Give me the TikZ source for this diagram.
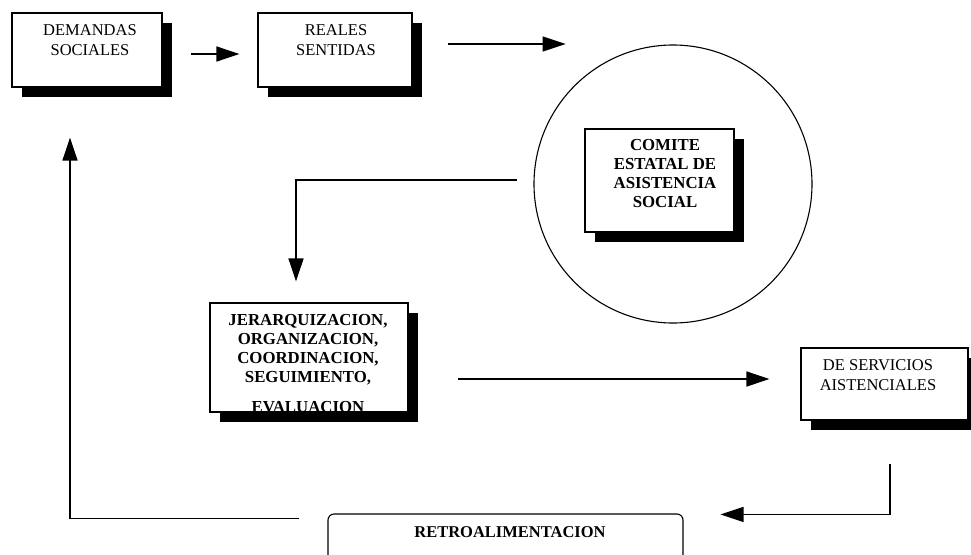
\documentclass[tikz,border=0pt]{standalone}
\usepackage{fontspec}
\setmainfont{Liberation Serif}
\usetikzlibrary{arrows.meta,shadows}
\begin{document}
\begin{tikzpicture}[x=1pt,y=-1pt,
  box/.style={draw=black,line width=1.1pt,fill=white,rectangle,inner sep=0pt,
    drop shadow={shadow xshift=10pt,shadow yshift=-10pt,fill=black,opacity=1}},
  plainbox/.style={draw=black,line width=1.1pt,fill=white,rectangle,inner sep=0pt},
  txt/.style={inner sep=0pt,align=center,font=\fontsize{16.5}{19.5}\selectfont},
  btxt/.style={inner sep=0pt,align=center,font=\fontsize{16.8}{19}\selectfont\bfseries},
  link/.style={line width=1.4pt,draw=black},
  arr/.style={link,-{Triangle[length=23pt,width=15pt]}}]
\clip (0,0) rectangle (971,554);
\fill[white] (0,0) rectangle (971,554);

% boxes
\node[box,minimum width=150pt,minimum height=74pt] (dem) at (87,50) {};
\node[txt] (demt) at (90,40) {DEMANDAS\\SOCIALES};

\node[box,minimum width=154pt,minimum height=74pt] (rea) at (335,50) {};
\node[txt] (reat) at (336,40) {REALES\\SENTIDAS};

\node[circle,draw=black,line width=1.1pt,minimum size=278pt,inner sep=0pt] (circ) at (673,184) {};

\node[box,minimum width=149pt,minimum height=103pt] (com) at (659.5,180.5) {};
\node[btxt] (comt) at (665,173.5) {COMITE\\ESTATAL DE\\ASISTENCIA\\SOCIAL};

\node[box,minimum width=198pt,minimum height=109pt] (jer) at (309,357.5) {};
\node[btxt] (jert) at (308,364) {JERARQUIZACION,\\ORGANIZACION,\\COORDINACION,\\SEGUIMIENTO,\\[11pt]EVALUACION};

\node[box,minimum width=167pt,minimum height=72pt] (serv) at (884.5,384) {};
\node[txt] (servt) at (878,375) {DE SERVICIOS\\AISTENCIALES};

\node[plainbox,rounded corners=6pt,minimum width=355pt,minimum height=56pt] (ret) at (505.5,542) {};
\node[btxt,font=\fontsize{16.5}{18}\selectfont\bfseries] (rett) at (510,532) {RETROALIMENTACION};

% connectors
\draw[arr] ([xshift=28pt,yshift=-4pt]dem.east) -- ([xshift=-18pt,yshift=-4pt]rea.west);
\draw[arr] ([xshift=35pt,yshift=6pt]rea.east) -- ++(118,0);
\draw[arr] ([xshift=-16pt,yshift=4pt]circ.west) -| ([xshift=-13pt,yshift=21pt]jer.north);
\draw[arr] ([xshift=49pt,yshift=-21.5pt]jer.east) -- ([xshift=-31pt,yshift=5pt]serv.west);
\draw[arr] ([xshift=5.5pt,yshift=-43pt]serv.south) |- ([xshift=37pt,yshift=-1pt]ret.north east);
\draw[arr] ([xshift=-28pt,yshift=-5pt]ret.north west) -| ([xshift=-17pt,yshift=-50pt]dem.south);
\end{tikzpicture}
\end{document}
